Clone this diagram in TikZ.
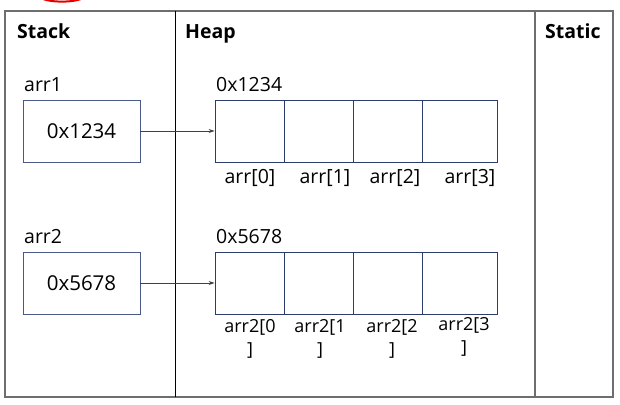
\documentclass[tikz,border=0pt]{standalone}
\usepackage{fontspec}
\setmainfont{Open Sans}
\usetikzlibrary{arrows.meta}
\definecolor{framegray}{HTML}{6E6E6E}
\definecolor{stackblue}{HTML}{4A5A88}
\definecolor{cellblue}{HTML}{2A3D6B}
\definecolor{arrowgray}{HTML}{404040}
\begin{document}
\begin{tikzpicture}[x=1pt,y=-1pt,
  header/.style={font=\fontsize{19.5}{22}\selectfont\bfseries, anchor=base west, inner sep=0pt},
  lbl/.style={font=\fontsize{19.5}{22}\selectfont, anchor=west, inner sep=0pt},
  celllbl/.style={font=\fontsize{19.5}{23}\selectfont, align=center, inner sep=0pt},
  celllbltwo/.style={font=\fontsize{18}{23}\selectfont, align=center, inner sep=0pt},
  stackbox/.style={draw=stackblue, line width=0.9pt, minimum width=117pt, minimum height=62pt, inner sep=0pt, font=\fontsize{20.5}{22}\selectfont},
  cell/.style={draw=cellblue, line width=0.9pt, minimum height=62pt, inner sep=0pt},
  ptr/.style={draw=arrowgray, line width=0.8pt, -{Stealth[length=6pt,width=4pt]}}
]
\useasboundingbox (0,0) rectangle (620,404);
% red fragment at top
\begin{scope}
\clip (0,0) rectangle (620,404);
\draw[red!90!black, line width=2pt] (43,-1) .. controls (52,2.5) and (72,2.5) .. (81,-1);
\end{scope}
% frame
\draw[framegray, line width=1.2pt] (5,11) rectangle (613,397);
\draw[black, line width=1pt] (175,11) -- (175,397);
\draw[framegray, line width=1.2pt] (535,11) -- (535,397);
% headers
\node[header] (hs) at (17,38) {Stack};
\node[header] (hh) at (185,38) {Heap};
\node[header] (hst) at (545,38) {Static};
% stack
\node[lbl] (l1) at (24,85) {arr1};
\node[stackbox] (s1) at (81.5,131) {0x1234};
\node[lbl] (l2) at (24,237) {arr2};
\node[stackbox] (s2) at (81.5,283) {0x5678};
% heap labels
\node[lbl] (h1) at (216,85) {0x1234};
\node[lbl] (h2) at (216,237) {0x5678};
% heap arrays
\foreach \r/\y in {1/131, 2/283} {
  \node[cell, minimum width=69pt] (c\r0) at (249.5,\y) {};
  \node[cell, minimum width=69pt] (c\r1) at (318.5,\y) {};
  \node[cell, minimum width=69pt] (c\r2) at (387.5,\y) {};
  \node[cell, minimum width=75.5pt] (c\r3) at (459.75,\y) {};
}
% cell labels
\node[celllbl] (a0) at (250,178) {arr[0]};
\node[celllbl] (a1) at (325,178) {arr[1]};
\node[celllbl] (a2) at (395,178) {arr[2]};
\node[celllbl] (a3) at (470,178) {arr[3]};
\node[celllbltwo] (b0) at (250,339) {arr2[0\\]};
\node[celllbltwo] (b1) at (320,339) {arr2[1\\]};
\node[celllbltwo] (b2) at (392,339) {arr2[2\\]};
\node[celllbltwo] (b3) at (464,337) {arr2[3\\]};
% pointers
\draw[ptr] (s1.east) -- (c10.west);
\draw[ptr] (s2.east) -- (c20.west);
\end{tikzpicture}
\end{document}
